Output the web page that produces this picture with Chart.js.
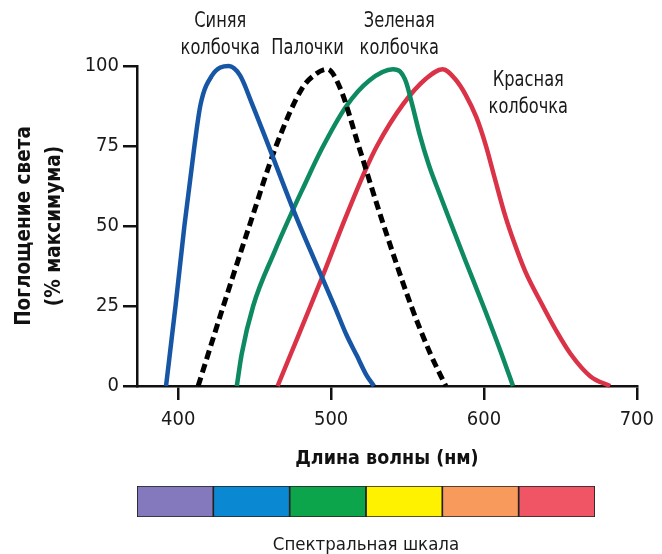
<!DOCTYPE html>
<html>
<head>
<meta charset="utf-8">
<script src="https://cdn.jsdelivr.net/npm/chart.js@4"></script>
<style>
    html, body { margin: 0; padding: 0; background: #fff; }
    #wrap { position: relative; width: 662px; height: 554px; }
    #mainChart { position: absolute; left: 0; top: 0; }
    #spectrumChart { position: absolute; left: 0; top: 476px; }
</style>
</head>
<body>
<div id="wrap">
    <canvas id="mainChart" width="662" height="554"></canvas>
    <canvas id="spectrumChart" width="662" height="78"></canvas>
</div>
<script>
// wavelength (nm) / absorption (% of max)
const blueX = [392, 398.2, 404, 410.3, 414.6, 422, 433, 440.5, 448, 458.7, 477, 494, 502.6, 510, 516.8, 523, 528];
const blueY = [0, 25, 50, 74, 88, 97, 100, 97, 88.5, 75.5, 53, 34, 24.5, 16, 9.5, 3.5, 0];

const rodX = [413, 429.5, 447.5, 464, 481, 490, 497.5, 506, 518, 533.5, 552.4, 565, 575];
const rodY = [0, 25, 51.5, 75, 93, 97.5, 99, 93, 75, 51.5, 25, 10, 0];

const greenX = [438.3, 441.5, 449, 463, 475, 481, 494, 510, 525, 540.5, 545, 549, 553, 558, 564, 571, 577, 588, 600.8, 611.5, 619];
const greenY = [0, 10, 25, 42, 55, 61.2, 74.2, 87.5, 95.5, 99, 98.3, 95, 88, 78.5, 69, 60, 52.5, 39, 23.5, 10, 0];

const redX = [465, 473.6, 486.5, 495, 508.5, 522, 530, 547, 562, 573, 581, 588, 595, 601, 607, 614, 620, 627, 638.5, 647, 656.7, 669.7, 682.5];
const redY = [0, 10, 25, 35, 51.5, 67, 75, 88, 96, 99, 96, 91, 84, 75.5, 65, 53, 44.5, 35.8, 25, 17.5, 10, 3, 0];

const xTicks = [400, 500, 600, 700];
const yTicks = [0, 25, 50, 75, 100];

const curveLabels = [
    { lines: ['Синяя', 'колбочка'], x: 427.5, y: 114 },
    { lines: ['Палочки'], x: 484.6, y: 105.3 },
    { lines: ['Зеленая', 'колбочка'], x: 544.6, y: 114 },
    { lines: ['Красная', 'колбочка'], x: 629, y: 95.6 },
];

const spectrumColors = ['#8479BD', '#0A88D2', '#0CA54B', '#FFF200', '#F89A5C', '#EF5565'];

const narrow = "'Liberation Sans Narrow', 'Arial Narrow', 'DejaVu Sans Condensed', sans-serif";

function toPoints(xs, ys) {
    return xs.map((x, i) => ({ x, y: ys[i] }));
}

function lineSet(label, xs, ys, color, dash) {
    return {
        label,
        data: toPoints(xs, ys),
        borderColor: color,
        borderWidth: dash ? 5 : 4.5,
        borderDash: dash || [],
        pointRadius: 0,
        fill: false,
        clip: false,
        cubicInterpolationMode: 'monotone',
    };
}

// curve names, squeezed horizontally to look like the narrow face in the original
const curveLabelPlugin = {
    id: 'curveLabels',
    afterDatasetsDraw(chart) {
        const { ctx, scales } = chart;
        const lineGap = scales.y.getPixelForValue(105.3) - scales.y.getPixelForValue(114);
        const squeeze = 0.86;
        ctx.save();
        ctx.font = '21px ' + narrow;
        ctx.fillStyle = '#1a1a1a';
        ctx.textAlign = 'center';
        ctx.textBaseline = 'middle';
        for (const lab of curveLabels) {
            const px = scales.x.getPixelForValue(lab.x);
            const py = scales.y.getPixelForValue(lab.y);
            lab.lines.forEach((t, i) => {
                ctx.save();
                ctx.translate(px, py + i * lineGap);
                ctx.scale(squeeze, 1);
                ctx.fillText(t, 0, 0);
                ctx.restore();
            });
        }
        ctx.restore();
    }
};

const axisStyle = {
    grid: {
        display: true,
        drawOnChartArea: false,
        drawTicks: true,
        tickLength: 14,
        lineWidth: 2.5,
        color: '#111',
    },
    border: { display: true, width: 2.5, color: '#111' },
};

new Chart(document.getElementById('mainChart').getContext('2d'), {
    type: 'line',
    data: {
        datasets: [
            lineSet('Синяя колбочка', blueX, blueY, '#1656A5'),
            lineSet('Палочки', rodX, rodY, '#000', [9, 5]),
            lineSet('Зеленая колбочка', greenX, greenY, '#0E8A62'),
            lineSet('Красная колбочка', redX, redY, '#DA3348'),
        ]
    },
    options: {
        responsive: false,
        animation: false,
        events: [],
        layout: { padding: { left: 0, top: 66, right: 18, bottom: 78 } },
        plugins: { legend: { display: false }, tooltip: { enabled: false } },
        scales: {
            x: {
                type: 'linear',
                min: 373,
                max: 700,
                ...axisStyle,
                afterBuildTicks: scale => { scale.ticks = xTicks.map(v => ({ value: v })); },
                afterFit: scale => { scale.height = 90; },
                ticks: {
                    color: '#1a1a1a',
                    padding: 8,
                    font: { family: narrow, size: 20 },
                },
                title: {
                    display: true,
                    text: 'Длина волны (нм)',
                    color: '#111',
                    font: { family: narrow, size: 19.5, weight: 'bold' },
                    padding: { top: 0, bottom: 5 },
                },
            },
            y: {
                min: 0,
                max: 100,
                ...axisStyle,
                afterBuildTicks: scale => { scale.ticks = yTicks.map(v => ({ value: v })); },
                afterFit: scale => { scale.width = 137; },
                ticks: {
                    color: '#1a1a1a',
                    padding: 4,
                    font: { family: narrow, size: 20 },
                },
                title: {
                    display: true,
                    text: ['Поглощение света', '(% максимума)'],
                    color: '#111',
                    font: { family: narrow, size: 20.5, weight: 'bold', lineHeight: '30px' },
                    padding: { top: 10, bottom: 0 },
                },
            },
        },
    },
    plugins: [curveLabelPlugin],
});

// spectral scale: one stacked segment per colour
new Chart(document.getElementById('spectrumChart').getContext('2d'), {
    type: 'bar',
    data: {
        labels: [''],
        datasets: spectrumColors.map(c => ({
            data: [1],
            backgroundColor: c,
            borderColor: '#222',
            borderWidth: 1.2,
            borderSkipped: false,
            barPercentage: 1,
            categoryPercentage: 1,
        })),
    },
    options: {
        indexAxis: 'y',
        responsive: false,
        animation: false,
        events: [],
        layout: { padding: { left: 137, top: 10, right: 67, bottom: 0 } },
        plugins: { legend: { display: false }, tooltip: { enabled: false } },
        scales: {
            x: {
                stacked: true,
                min: 0,
                max: spectrumColors.length,
                grid: { display: false },
                border: { display: false },
                ticks: { display: false },
                afterFit: scale => { scale.height = 37; },
                title: {
                    display: true,
                    text: 'Спектральная шкала',
                    color: '#1a1a1a',
                    font: { family: narrow, size: 18.5, lineHeight: 1 },
                    padding: 0,
                },
            },
            y: {
                stacked: true,
                display: false,
            },
        },
    },
});
</script>
</body>
</html>
